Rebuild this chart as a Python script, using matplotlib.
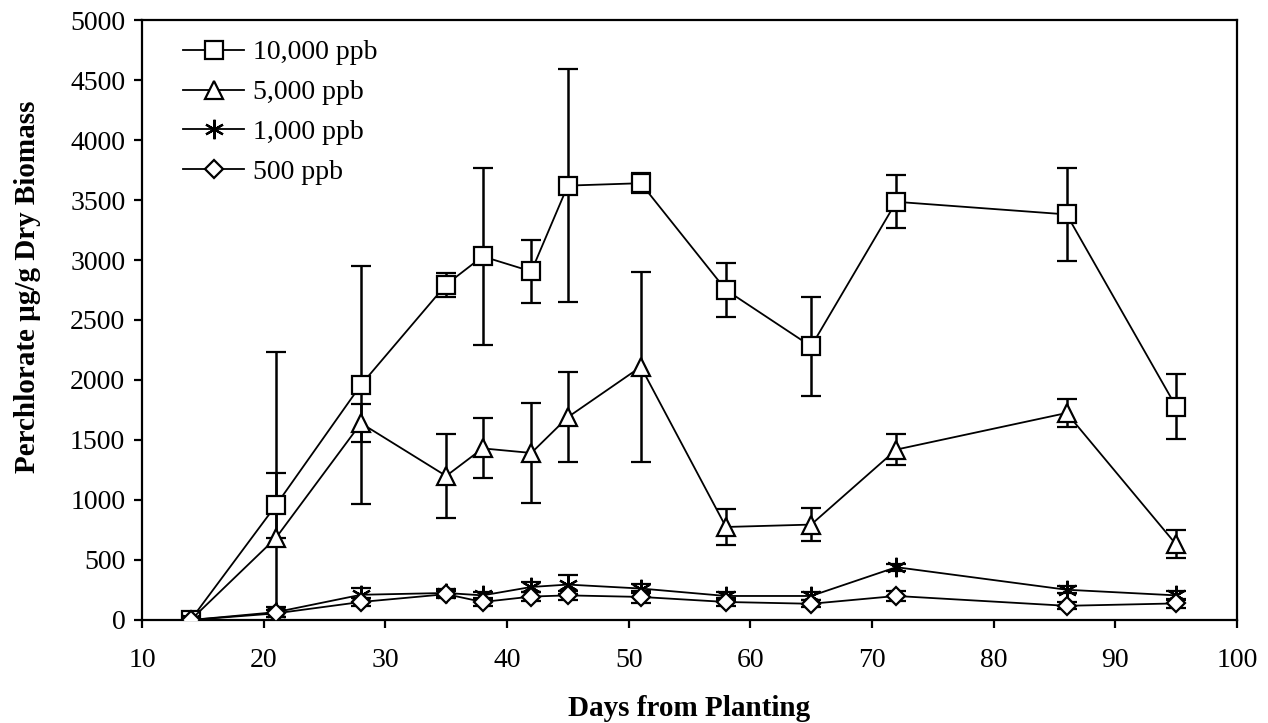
#!/usr/bin/env python
"""
Perchlorate uptake in dry biomass over days from planting.
"""

import matplotlib
matplotlib.use('Agg')
import matplotlib.pyplot as plt

# Sampling days
days = [14, 21, 28, 35, 38, 42, 45, 51, 58, 65, 72, 86, 95]

# 10,000 ppb
ppb10000 = [0, 955, 1960, 2795, 3030, 2905, 3620, 3640, 2750, 2280, 3485, 3380, 1778]
ppb10000_err = [0, 270, 990, 100, 740, 265, 970, 85, 225, 410, 220, 390, 272]

# 5,000 ppb
ppb5000 = [0, 683, 1640, 1200, 1430, 1392, 1690, 2110, 775, 795, 1420, 1725, 630]
ppb5000_err = [0, 1550, 160, 350, 250, 420, 375, 790, 150, 140, 130, 115, 117]

# 1,000 ppb
ppb1000 = [0, 65, 210, 225, 205, 275, 295, 262, 200, 200, 440, 252, 205]
ppb1000_err = [0, 40, 60, 30, 30, 40, 80, 40, 30, 30, 30, 30, 40]

# 500 ppb
ppb500 = [0, 55, 150, 215, 150, 195, 205, 192, 150, 135, 200, 118, 138]
ppb500_err = [0, 30, 30, 30, 30, 40, 40, 50, 30, 30, 40, 30, 40]

series = [
    ('10,000 ppb', ppb10000, ppb10000_err, 's', 12.5),
    ('5,000 ppb', ppb5000, ppb5000_err, '^', 13),
    ('1,000 ppb', ppb1000, ppb1000_err, (6, 2, 0), 14),
    ('500 ppb', ppb500, ppb500_err, 'D', 9),
]

plt.rcParams['font.family'] = ['Liberation Serif', 'DejaVu Serif']

fig = plt.figure(figsize=(12.68, 7.23), dpi=100)
ax = fig.add_axes([0.112, 0.1425, 0.8635, 0.8298])

for label, vals, errs, marker, msize in series:
    ax.errorbar(days, vals, yerr=errs, color='black', linewidth=1.3,
                elinewidth=1.8, capsize=7.5, capthick=1.8,
                marker=marker, markersize=msize, markerfacecolor='white',
                markeredgecolor='black', markeredgewidth=1.6,
                label=label, zorder=3)

ax.set_xlim(10, 100)
ax.set_ylim(0, 5000)
ax.set_xticks(range(10, 101, 10))
ax.set_yticks(range(0, 5001, 500))
ax.tick_params(direction='out', length=6, width=1.6, labelsize=20)
ax.tick_params(axis='x', pad=14)
ax.tick_params(axis='y', pad=6)
for sp in ax.spines.values():
    sp.set_linewidth(1.6)

ax.set_xlabel('Days from Planting', fontsize=21, fontweight='bold', labelpad=16)
ax.set_ylabel('Perchlorate \u00b5g/g Dry Biomass', fontsize=21, fontweight='bold')
ax.yaxis.set_label_coords(-0.092, 0.555)

handles, labels = ax.get_legend_handles_labels()
handles = [h[0] for h in handles]
ax.legend(handles, labels, loc='upper left', frameon=False, fontsize=20,
          handlelength=2.2, labelspacing=0.52, handletextpad=0.3,
          borderaxespad=0.3, borderpad=0.2, bbox_to_anchor=(0.025, 0.99))

plt.savefig('out.png', dpi=100)
plt.close()
